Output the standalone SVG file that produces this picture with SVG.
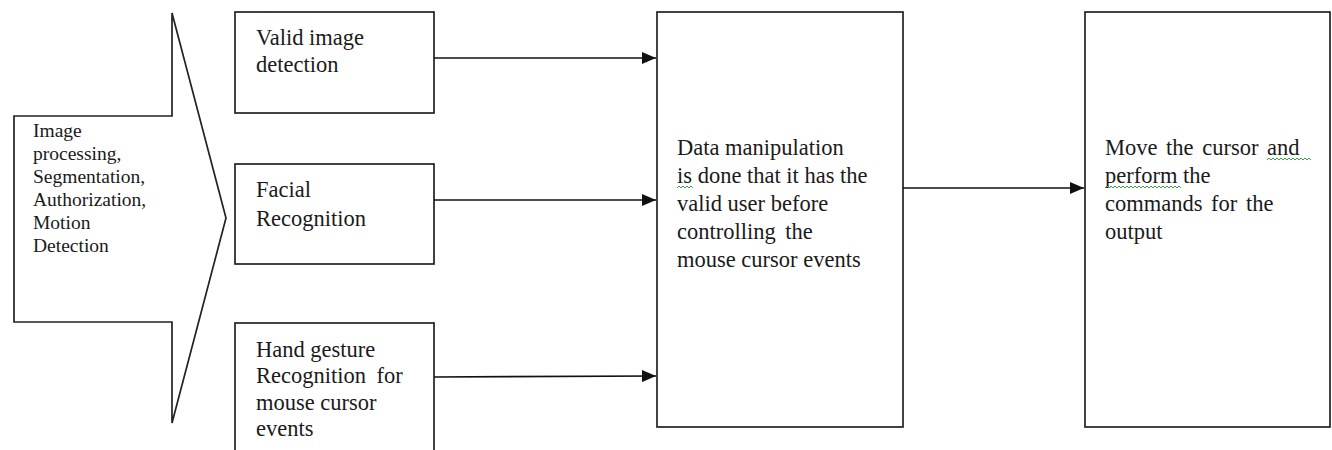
<svg xmlns="http://www.w3.org/2000/svg" width="1332" height="450" viewBox="0 0 1332 450">
<style>
  .shape { fill: #ffffff; stroke: #222222; stroke-width: 1.7; }
  .lbl { font-family: "Liberation Serif", "Times New Roman", serif; fill: #1a1a1a; }
  .big { font-size: 22.5px; }
  .small { font-size: 19.5px; }
  .conn { stroke: #111111; stroke-width: 1.6; fill: none; }
  .wave { stroke: #3aa640; stroke-width: 1; fill: none; }
</style>
<defs>
  <marker id="ah" viewBox="0 0 14 12" refX="14" refY="6" markerWidth="14" markerHeight="12" markerUnits="userSpaceOnUse" orient="auto">
    <path d="M0,0 L14,6 L0,12 Z" fill="#111111"/>
  </marker>
</defs>
<rect width="1332" height="450" fill="#ffffff"/>

<g id="input-arrow">
  <polygon class="shape" points="14,116 172,116 172,13 226,218 172,423 172,322 14,322"/>
  <text class="lbl small" x="33" y="137">Image</text>
  <text class="lbl small" x="33" y="160">processing,</text>
  <text class="lbl small" x="33" y="183">Segmentation,</text>
  <text class="lbl small" x="33" y="206">Authorization,</text>
  <text class="lbl small" x="33" y="229">Motion</text>
  <text class="lbl small" x="33" y="252">Detection</text>
</g>

<g id="valid-image">
  <rect class="shape" x="235" y="12" width="199" height="101"/>
  <text class="lbl big" x="256" y="45">Valid image</text>
  <text class="lbl big" x="256" y="72">detection</text>
</g>

<g id="facial">
  <rect class="shape" x="235" y="164" width="199" height="100"/>
  <text class="lbl big" x="256" y="197">Facial</text>
  <text class="lbl big" x="256" y="226">Recognition</text>
</g>

<g id="hand-gesture">
  <rect class="shape" x="235" y="323" width="199" height="140"/>
  <text class="lbl big" x="256" y="357">Hand gesture</text>
  <text class="lbl big" x="256" y="383" word-spacing="5">Recognition for</text>
  <text class="lbl big" x="256" y="410">mouse cursor</text>
  <text class="lbl big" x="256" y="436">events</text>
</g>

<g id="data-manipulation">
  <rect class="shape" x="657" y="12" width="246" height="415"/>
  <text class="lbl big" x="677" y="155">Data manipulation</text>
  <text class="lbl big" x="677" y="183">is done that it has the</text>
  <text class="lbl big" x="677" y="211">valid user before</text>
  <text class="lbl big" x="677" y="239" word-spacing="4">controlling the</text>
  <text class="lbl big" x="677" y="267">mouse cursor events</text>
  <path class="wave" d="M677,188 l2,-2 l2,2 l2,-2 l2,2 l2,-2 l2,2 l2,-2 l2,2"/>
</g>

<g id="output">
  <rect class="shape" x="1085" y="12" width="245" height="415"/>
  <text class="lbl big" x="1105" y="155" word-spacing="3">Move the cursor and</text>
  <text class="lbl big" x="1105" y="183">perform the</text>
  <text class="lbl big" x="1105" y="211" word-spacing="3">commands for the</text>
  <text class="lbl big" x="1105" y="239">output</text>
  <path class="wave" d="M1267,160 l2,-2 l2,2 l2,-2 l2,2 l2,-2 l2,2 l2,-2 l2,2 l2,-2 l2,2 l2,-2 l2,2 l2,-2 l2,2 l2,-2 l2,2 l2,-2 l2,2 l2,-2 l2,2 l2,-2 l2,2"/>
  <path class="wave" d="M1105,188 l2,-2 l2,2 l2,-2 l2,2 l2,-2 l2,2 l2,-2 l2,2 l2,-2 l2,2 l2,-2 l2,2 l2,-2 l2,2 l2,-2 l2,2 l2,-2 l2,2 l2,-2 l2,2 l2,-2 l2,2 l2,-2 l2,2 l2,-2 l2,2 l2,-2 l2,2 l2,-2 l2,2 l2,-2 l2,2 l2,-2 l2,2 l2,-2 l2,2 l2,-2 l2,2"/>
</g>

<g id="connectors">
  <line class="conn" x1="434" y1="58" x2="656" y2="58" marker-end="url(#ah)"/>
  <line class="conn" x1="434" y1="200" x2="656" y2="200" marker-end="url(#ah)"/>
  <line class="conn" x1="434" y1="377" x2="656" y2="376" marker-end="url(#ah)"/>
  <line class="conn" x1="903" y1="188" x2="1084" y2="188" marker-end="url(#ah)"/>
</g>
</svg>
